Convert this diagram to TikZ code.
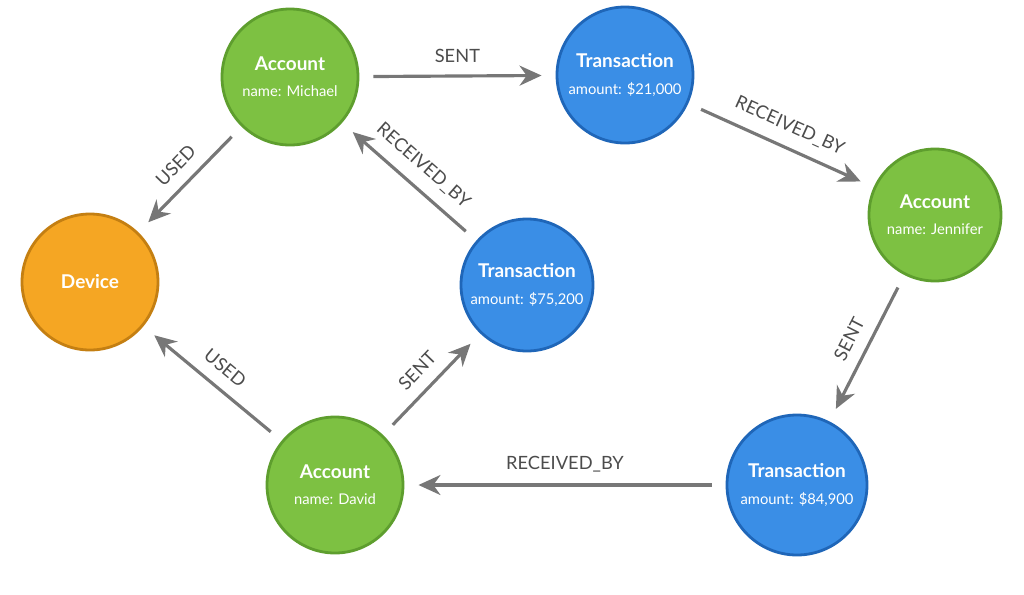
\documentclass[tikz,border=0pt]{standalone}
\usepackage{fontspec}
\setmainfont{Lato}
\usetikzlibrary{arrows.meta,positioning}
\definecolor{accgreen}{HTML}{7DC142}
\definecolor{accedge}{HTML}{5E9E2E}
\definecolor{txblue}{HTML}{3A8EE6}
\definecolor{txedge}{HTML}{1F66B8}
\definecolor{devorange}{HTML}{F5A623}
\definecolor{devedge}{HTML}{C47F12}
\definecolor{linkgray}{HTML}{777777}
\newcommand{\ttl}[1]{{\fontsize{5.4}{6.5}\selectfont\bfseries #1}}
\newcommand{\sub}[1]{{\fontsize{4.2}{5}\selectfont #1}}

\begin{document}
\begin{tikzpicture}[
    account/.style={
        circle,
        draw=accedge,
        fill=accgreen,
        thick,
        inner sep=0pt,
        minimum size=1.36cm,
        text=white,
        align=center,
        font=\fontsize{5}{7.5}\selectfont
    },
    trans/.style={
        circle,
        draw=txedge,
        fill=txblue,
        thick,
        inner sep=0pt,
        minimum size=1.36cm,
        text=white,
        align=center,
        font=\fontsize{5}{7.5}\selectfont
    },
    device/.style={
        circle,
        draw=devedge,
        fill=devorange,
        thick,
        inner sep=0pt,
        minimum size=1.36cm,
        text=white,
        align=center
    },
    link/.style={
        -{Stealth[length=2.2mm,width=2mm]},
        draw=linkgray,
        line width=0.9pt,
        shorten <=4pt,
        shorten >=4pt
    },
    lbl/.style={
        sloped,
        above,
        text=black!70,
        font=\fontsize{5.2}{6}\selectfont
    }
]

    % frame
    \useasboundingbox (0,0) rectangle (10.24,-5.94);

    % nodes
    \node[account] (michael) at (2.90,-0.77)
        {\ttl{Account}\\\sub{name: Michael}};
    \node[trans] (tx21) at (6.25,-0.75)
        {\ttl{Transaction}\\\sub{amount: \$21,000}};
    \node[account, minimum size=1.32cm] (jennifer) at (9.35,-2.15)
        {\ttl{Account}\\\sub{name: Jennifer}};
    \node[device] (device) at (0.90,-2.82)
        {\ttl{Device}};
    \node[trans, minimum size=1.32cm] (tx75) at (5.27,-2.85)
        {\ttl{Transaction}\\\sub{amount: \$75,200}};
    \node[account] (david) at (3.35,-4.85)
        {\ttl{Account}\\\sub{name: David}};
    \node[trans, minimum size=1.40cm] (tx84) at (7.97,-4.85)
        {\ttl{Transaction}\\\sub{amount: \$84,900}};

    % relationships
    \draw[link] (michael) -- node[lbl] {SENT} (tx21);
    \draw[link] (tx21) -- node[lbl] {RECEIVED\_BY} (jennifer);
    \draw[link] (jennifer) -- node[lbl] {SENT} (tx84);
    \draw[link] (tx84) -- node[lbl] {RECEIVED\_BY} (david);
    \draw[link] (david) -- node[lbl] {SENT} (tx75);
    \draw[link] (tx75) -- node[lbl] {RECEIVED\_BY} (michael);
    \draw[link] (michael) -- node[lbl] {USED} (device);
    \draw[link] (david) -- node[lbl] {USED} (device);

\end{tikzpicture}
\end{document}
